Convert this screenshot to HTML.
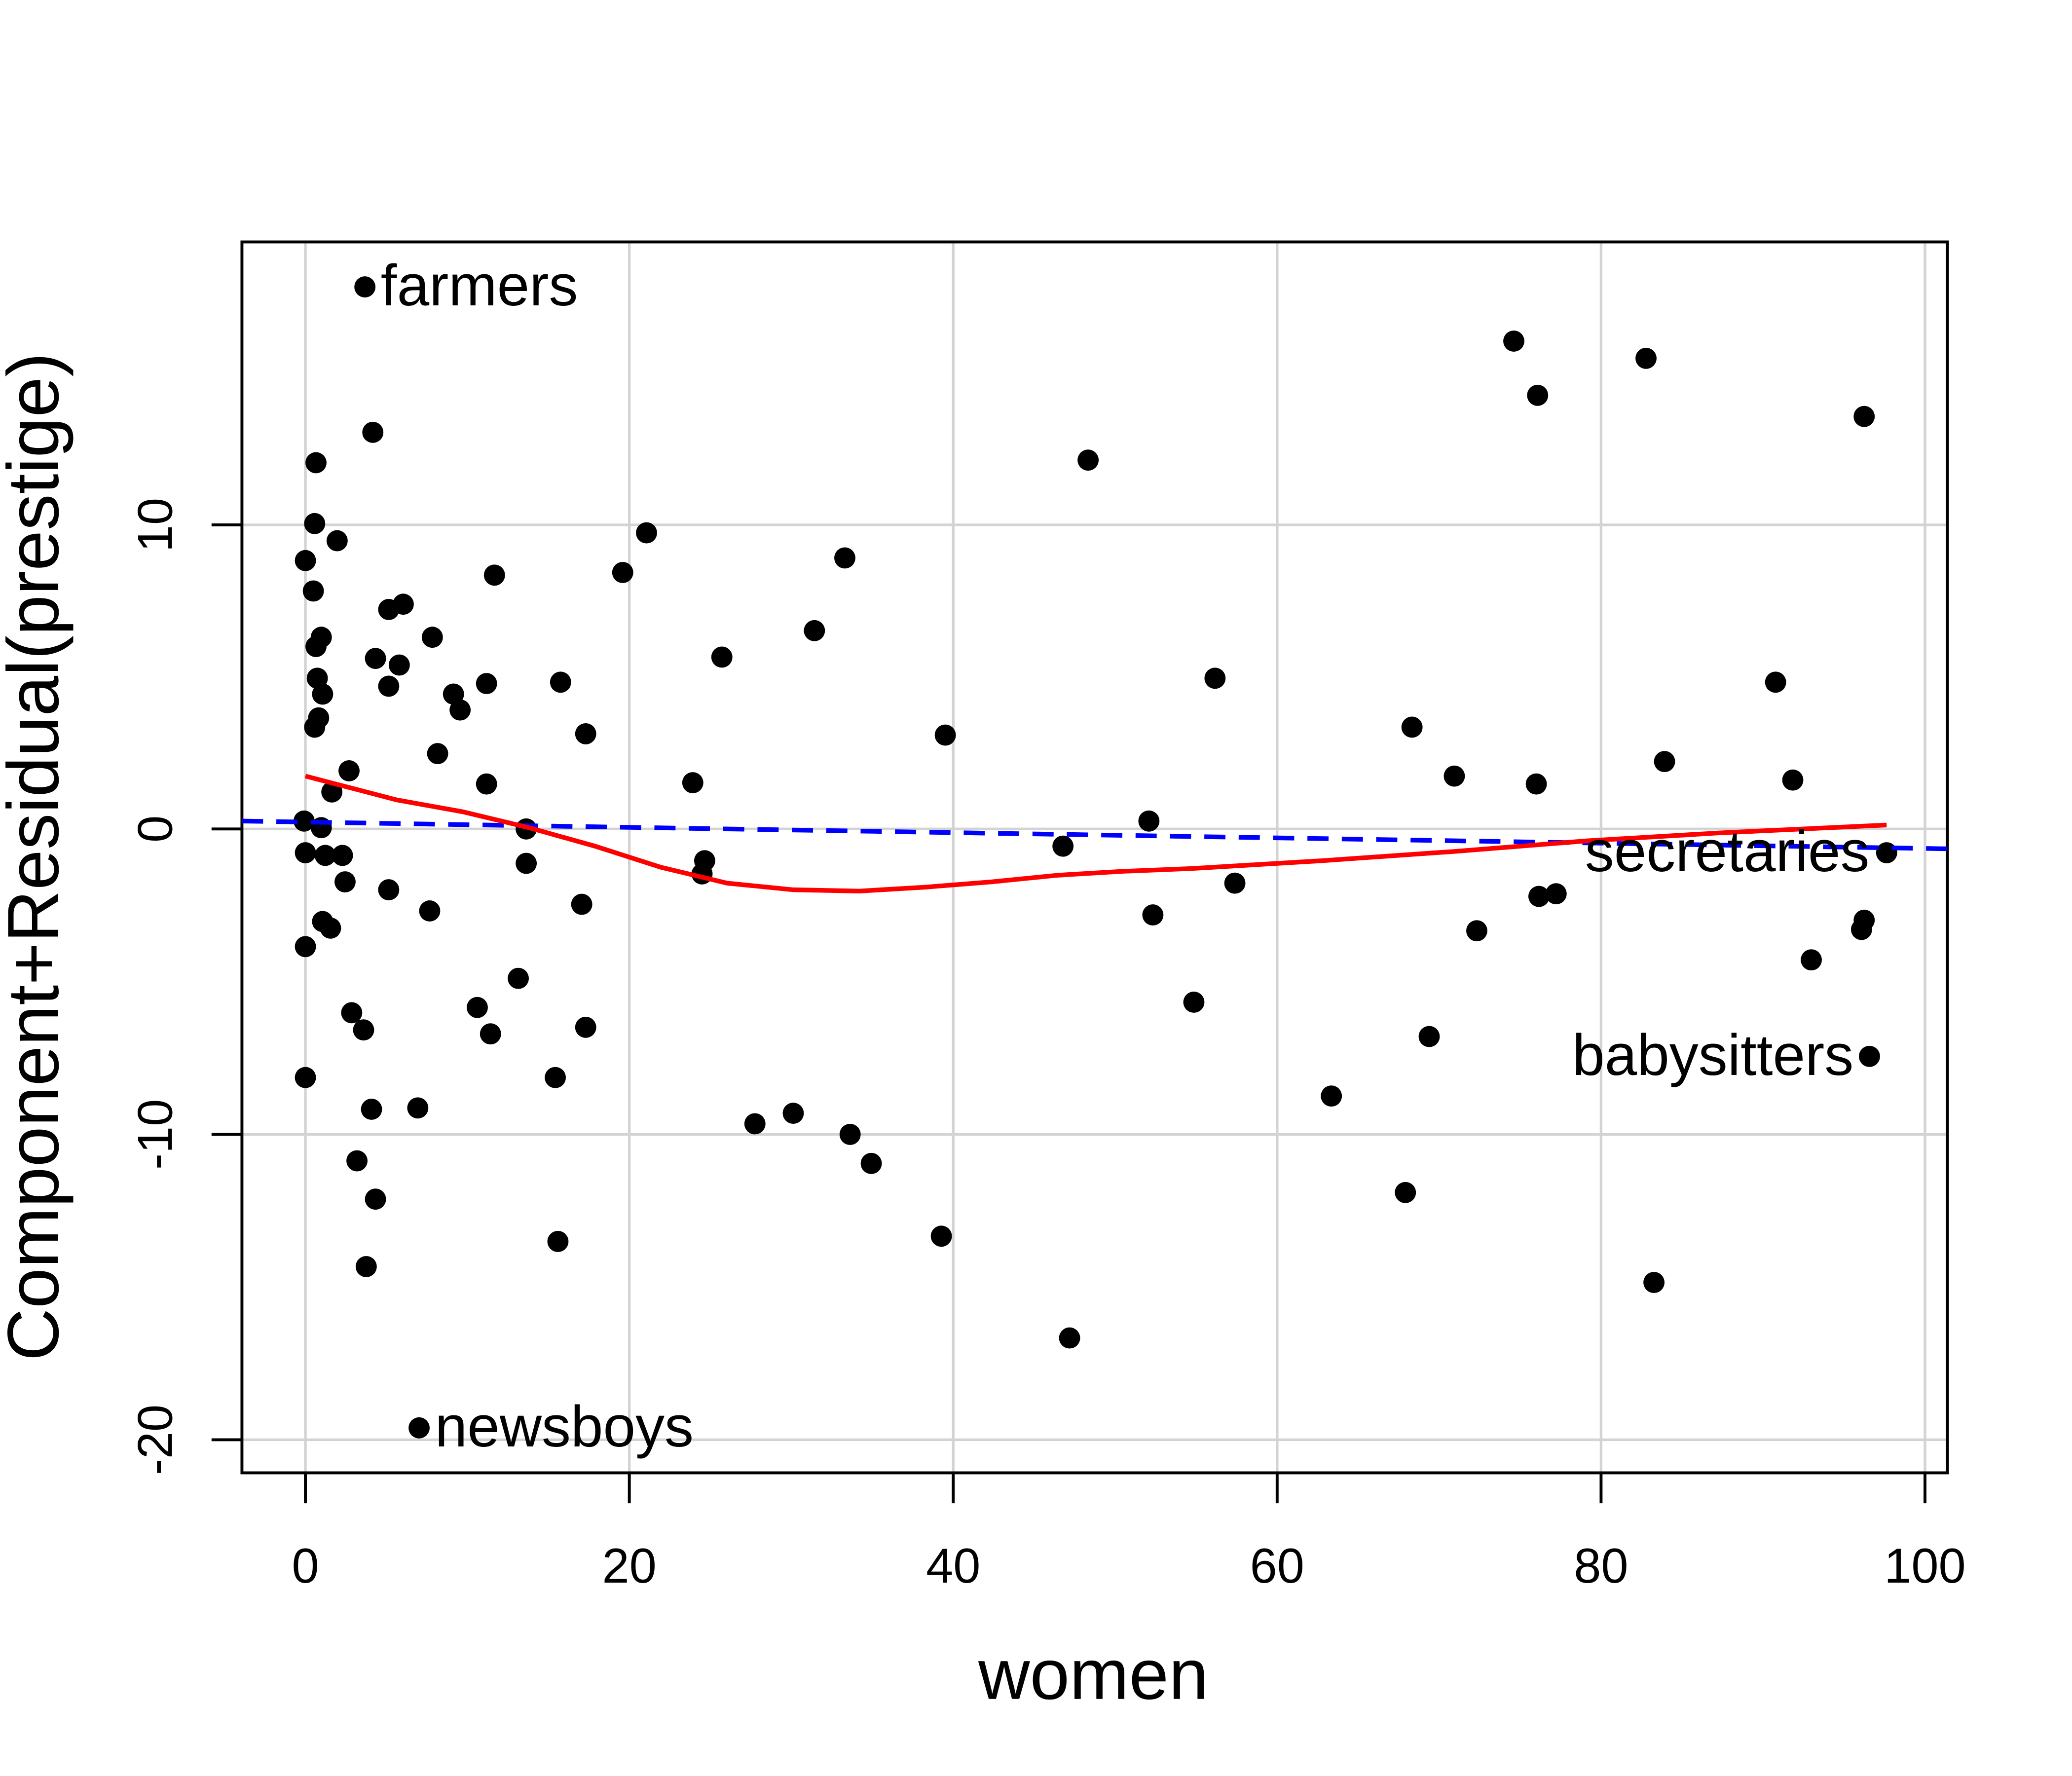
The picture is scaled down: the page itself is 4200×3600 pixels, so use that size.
<!DOCTYPE html>
<html><head><style>html,body{margin:0;padding:0;background:#fff}svg{display:block}</style></head>
<body>
<svg xmlns="http://www.w3.org/2000/svg" width="4200" height="3600" viewBox="0 0 1567.2 1343.3" font-family="Liberation Sans, Arial, sans-serif">
<rect width="1567.2" height="1343.3" fill="#fff"/>
<g stroke="#d3d3d3" stroke-width="2">
<line x1="231" y1="183" x2="231" y2="1114"/><line x1="476" y1="183" x2="476" y2="1114"/><line x1="721" y1="183" x2="721" y2="1114"/><line x1="966" y1="183" x2="966" y2="1114"/><line x1="1211" y1="183" x2="1211" y2="1114"/><line x1="1456" y1="183" x2="1456" y2="1114"/>
<line x1="183" y1="397" x2="1473" y2="397"/><line x1="183" y1="627" x2="1473" y2="627"/><line x1="183" y1="858" x2="1473" y2="858"/><line x1="183" y1="1089" x2="1473" y2="1089"/>
</g>
<g stroke="#000" stroke-width="2.2" fill="none">
<rect x="183" y="183" width="1290" height="931"/>
<line x1="231" y1="1137" x2="231" y2="1114"/><line x1="476" y1="1137" x2="476" y2="1114"/><line x1="721" y1="1137" x2="721" y2="1114"/><line x1="966" y1="1137" x2="966" y2="1114"/><line x1="1211" y1="1137" x2="1211" y2="1114"/><line x1="1456" y1="1137" x2="1456" y2="1114"/>
<line x1="160" y1="397" x2="183" y2="397"/><line x1="160" y1="627" x2="183" y2="627"/><line x1="160" y1="858" x2="183" y2="858"/><line x1="160" y1="1089" x2="183" y2="1089"/>
</g>
<g font-size="37" text-anchor="middle" fill="#000">
<text x="231" y="1197">0</text><text x="476" y="1197">20</text><text x="721" y="1197">40</text><text x="966" y="1197">60</text><text x="1211" y="1197">80</text><text x="1456" y="1197">100</text>
<text transform="translate(130,397) rotate(-90)">10</text><text transform="translate(130,627) rotate(-90)">0</text><text transform="translate(130,858) rotate(-90)">-10</text><text transform="translate(130,1089) rotate(-90)">-20</text>
</g>
<text x="827" y="1285" font-size="54" text-anchor="middle">women</text>
<text transform="translate(44,648) rotate(-90)" font-size="55" text-anchor="middle">Component+Residual(prestige)</text>
<g fill="#000">
<circle cx="276" cy="217" r="8"/><circle cx="282" cy="327" r="8"/><circle cx="239" cy="350" r="8"/><circle cx="238" cy="396" r="8"/><circle cx="231" cy="424" r="8"/><circle cx="255" cy="409" r="8"/><circle cx="237" cy="447" r="8"/><circle cx="243" cy="482" r="8"/><circle cx="239" cy="489" r="8"/><circle cx="240" cy="513" r="8"/><circle cx="244" cy="525" r="8"/><circle cx="241" cy="543" r="8"/><circle cx="238" cy="550" r="8"/><circle cx="230" cy="621" r="8"/><circle cx="243" cy="626" r="8"/><circle cx="231" cy="645" r="8"/><circle cx="246" cy="647" r="8"/><circle cx="259" cy="647" r="8"/><circle cx="261" cy="667" r="8"/><circle cx="244" cy="697" r="8"/><circle cx="250" cy="702" r="8"/><circle cx="251" cy="599" r="8"/><circle cx="264" cy="583" r="8"/><circle cx="231" cy="716" r="8"/><circle cx="231" cy="815" r="8"/><circle cx="266" cy="766" r="8"/><circle cx="275" cy="779" r="8"/><circle cx="270" cy="878" r="8"/><circle cx="284" cy="907" r="8"/><circle cx="277" cy="958" r="8"/><circle cx="281" cy="839" r="8"/><circle cx="316" cy="838" r="8"/><circle cx="317" cy="1080" r="8"/><circle cx="294" cy="461" r="8"/><circle cx="305" cy="457" r="8"/><circle cx="284" cy="498" r="8"/><circle cx="294" cy="519" r="8"/><circle cx="302" cy="503" r="8"/><circle cx="327" cy="482" r="8"/><circle cx="331" cy="570" r="8"/><circle cx="343" cy="525" r="8"/><circle cx="348" cy="537" r="8"/><circle cx="368" cy="517" r="8"/><circle cx="374" cy="435" r="8"/><circle cx="368" cy="593" r="8"/><circle cx="398" cy="627" r="8"/><circle cx="398" cy="653" r="8"/><circle cx="294" cy="673" r="8"/><circle cx="325" cy="689" r="8"/><circle cx="361" cy="762" r="8"/><circle cx="371" cy="782" r="8"/><circle cx="392" cy="740" r="8"/><circle cx="420" cy="815" r="8"/><circle cx="422" cy="939" r="8"/><circle cx="424" cy="516" r="8"/><circle cx="443" cy="555" r="8"/><circle cx="440" cy="684" r="8"/><circle cx="443" cy="777" r="8"/><circle cx="471" cy="433" r="8"/><circle cx="489" cy="403" r="8"/><circle cx="524" cy="592" r="8"/><circle cx="533" cy="651" r="8"/><circle cx="531" cy="661" r="8"/><circle cx="546" cy="497" r="8"/><circle cx="571" cy="850" r="8"/><circle cx="600" cy="842" r="8"/><circle cx="616" cy="477" r="8"/><circle cx="639" cy="422" r="8"/><circle cx="643" cy="858" r="8"/><circle cx="659" cy="880" r="8"/><circle cx="712" cy="935" r="8"/><circle cx="715" cy="556" r="8"/><circle cx="804" cy="640" r="8"/><circle cx="809" cy="1012" r="8"/><circle cx="823" cy="348" r="8"/><circle cx="869" cy="621" r="8"/><circle cx="872" cy="692" r="8"/><circle cx="903" cy="758" r="8"/><circle cx="919" cy="513" r="8"/><circle cx="934" cy="668" r="8"/><circle cx="1007" cy="829" r="8"/><circle cx="1063" cy="902" r="8"/><circle cx="1068" cy="550" r="8"/><circle cx="1081" cy="784" r="8"/><circle cx="1100" cy="587" r="8"/><circle cx="1117" cy="704" r="8"/><circle cx="1145" cy="258" r="8"/><circle cx="1163" cy="299" r="8"/><circle cx="1162" cy="593" r="8"/><circle cx="1164" cy="678" r="8"/><circle cx="1177" cy="676" r="8"/><circle cx="1245" cy="271" r="8"/><circle cx="1251" cy="970" r="8"/><circle cx="1259" cy="576" r="8"/><circle cx="1343" cy="516" r="8"/><circle cx="1356" cy="590" r="8"/><circle cx="1370" cy="726" r="8"/><circle cx="1408" cy="703" r="8"/><circle cx="1410" cy="696" r="8"/><circle cx="1410" cy="315" r="8"/><circle cx="1414" cy="799" r="8"/><circle cx="1427" cy="645" r="8"/>
</g>
<line x1="183" y1="621" x2="1473" y2="642" stroke="#0000ff" stroke-width="3.5" stroke-dasharray="16,10"/>
<polyline fill="none" stroke="#ff0000" stroke-width="3.5" points="231,587 300,605 350,614 400,626 450,640 500,656 550,668 600,673 650,674 700,671 750,667 800,662 850,659 900,657 1000,651 1100,644 1200,636 1300,630 1427,624"/>
<g font-size="44" fill="#000">
<text x="288" y="231">farmers</text>
<text x="329" y="1094">newsboys</text>
<text x="1414" y="659" text-anchor="end">secretaries</text>
<text x="1402" y="813" text-anchor="end">babysitters</text>
</g>
</svg>
</body></html>
